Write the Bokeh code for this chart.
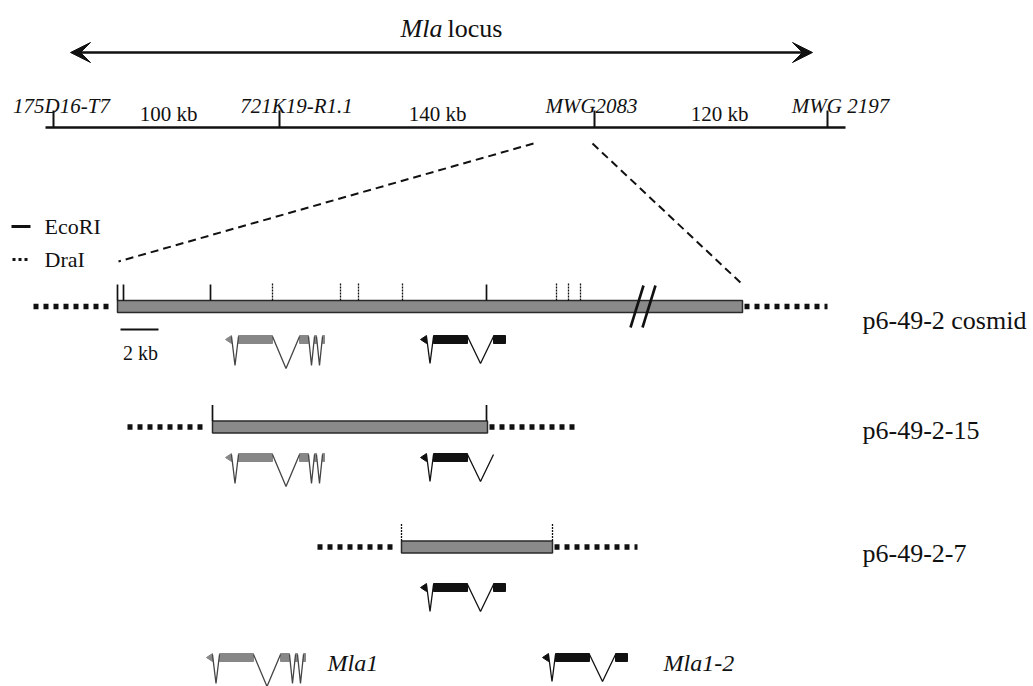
from bokeh.plotting import figure
from bokeh.models import Range1d, Arrow, VeeHead
from bokeh.core.properties import value
from bokeh.embed import file_html
from bokeh.resources import INLINE

FONT = "Liberation Serif"
INK = "#111111"
BAR_FILL = "#8a8a8a"

# ---------------- data ----------------
title_parts = ["Mla", "locus"]
locus_arrow = [70, 812]
map_line = [45, 845]
map_y = 127
marker_names = ["175D16-T7", "721K19-R1.1", "MWG2083", "MWG 2197"]
marker_x = [53, 279, 594, 827]
marker_label_x = [61, 296, 591, 840]
interval_labels = ["100 kb", "140 kb", "120 kb"]
interval_x = [168, 437, 719]

zoom_from_x = [533, 592]
zoom_to_x = [118, 742]
zoom_to_y = [261, 284]

clone_names = ["p6-49-2 cosmid", "p6-49-2-15", "p6-49-2-7"]
clone_start = [117, 212, 401]
clone_end = [742, 487, 552]
clone_mid_y = [306, 426.5, 546.5]
vector_left = [33, 127, 317]
vector_right = [827, 575, 637]
clone_label_y = [320, 430, 553]
clone_ecori = [[117, 123, 210, 486], [212, 486], []]
clone_drai = [[272, 340, 358, 402, 556, 568, 580], [], [401, 552]]
break_x = [636, 648]

scale_bar = [120, 158]
scale_label = "2 kb"

legend_labels = ["EcoRI", "DraI"]
legend_y = [226, 259]

# gene structures: first exon drawn as direction triangle
mla1_exons = [(225, 231), (238, 272), (299, 308), (314, 316), (322, 324)]
mla1_depth = [30, 33, 30, 30]
mla12_exons = [(420, 426), (433, 467), (493, 505)]
mla12_depth = [28, 28]
genes = {
    "Mla1": (mla1_exons, mla1_depth, "#878787", "#444444"),
    "Mla1-2": (mla12_exons, mla12_depth, "#111111", "#111111"),
}
# (gene, shift, exon top y, exons shown)
gene_rows = [
    ("Mla1", 0, 335, 5), ("Mla1-2", 0, 335, 3),
    ("Mla1", 0, 453, 5), ("Mla1-2", 0, 453, 2),
    ("Mla1-2", 0, 583, 3),
    ("Mla1", -19, 653, 5), ("Mla1-2", 122, 653, 3),
]
gene_label_x = [327, 663]
gene_label_y = 662

# ---------------- figure ----------------
W, H = 1033, 686
p = figure(width=W, height=H, x_range=Range1d(0, W), y_range=Range1d(H, 0),
           output_backend="svg", toolbar_location=None, min_border=0)
p.axis.visible = False
p.grid.visible = False
p.outline_line_color = None
p.background_fill_color = "white"


def txt(xs, ys, texts, size, italic=False, align="left", baseline="alphabetic"):
    p.text(x=xs, y=ys, text=texts, text_font=value(FONT), text_font_size=value(f"{size}px"),
           text_font_style="italic" if italic else "normal", text_align=align,
           text_baseline=baseline, text_color=INK)


# title + locus arrow
txt([442], [28], [title_parts[0]], 26, italic=True, align="right")
txt([447], [28], [title_parts[1]], 26)
p.add_layout(Arrow(start=VeeHead(size=20, fill_color=INK, line_color=INK),
                   end=VeeHead(size=20, fill_color=INK, line_color=INK),
                   x_start=locus_arrow[0], y_start=52, x_end=locus_arrow[1], y_end=52,
                   line_width=2.6, line_color=INK))

# physical map
p.line(map_line, [map_y, map_y], line_width=2.6, line_color=INK)
p.segment(x0=marker_x, y0=[map_y - 17] * 4, x1=marker_x, y1=[map_y] * 4, line_width=2, line_color=INK)
txt(marker_label_x, [105] * 4, marker_names, 21, italic=True, align="center")
txt(interval_x, [113] * 3, interval_labels, 21, align="center")

# zoom lines
p.segment(x0=zoom_from_x, y0=[143, 143], x1=zoom_to_x, y1=zoom_to_y, line_width=2,
          line_color=INK, line_dash="8 5")

# legend
p.line([11, 30], [legend_y[0]] * 2, line_width=3, line_color=INK)
p.line([12, 29], [legend_y[1]] * 2, line_width=3, line_color=INK, line_dash="3 3")
txt([44, 44], legend_y, legend_labels, 22, baseline="middle")

# clones
for i in range(3):
    yc = clone_mid_y[i]
    p.line([vector_left[i], clone_start[i] - 5], [yc, yc], line_width=5.5, line_color=INK, line_dash="5 5")
    p.line([clone_end[i] + 2, vector_right[i]], [yc, yc], line_width=5.5, line_color=INK, line_dash="5 5")
    p.quad(left=[clone_start[i]], right=[clone_end[i]], top=[yc - 6], bottom=[yc + 6],
           fill_color=BAR_FILL, line_color="#2a2a2a", line_width=1.5)
    e = clone_ecori[i]
    if e:
        p.segment(x0=e, y0=[yc - 22] * len(e), x1=e, y1=[yc - 6] * len(e), line_width=1.7, line_color=INK)
    d = clone_drai[i]
    if d:
        p.segment(x0=d, y0=[yc - 23] * len(d), x1=d, y1=[yc - 6] * len(d), line_width=1.3,
                  line_color=INK, line_dash="2 1")
    txt([862], [clone_label_y[i]], [clone_names[i]], 26)

# break marks on cosmid
p.segment(x0=[b - 6 for b in break_x], y0=[327, 327], x1=[b + 7 for b in break_x], y1=[285, 285],
          line_width=2.6, line_color=INK)

# scale bar
p.line(scale_bar, [329, 329], line_width=1.8, line_color=INK)
txt([sum(scale_bar) / 2 + 1], [352], [scale_label], 20, align="center")

# gene models
for name, shift, ytop, shown in gene_rows:
    exons, depth, col, icol = genes[name]
    ex = [(a + shift, b + shift) for a, b in exons]
    h = 8
    yc = ytop + h / 2
    # direction triangle
    a, b = ex[0]
    p.patch([a, b, b], [yc, yc - h / 2, yc + h / 2], fill_color=col, line_color=col, line_width=1)
    # exons
    for k in range(1, min(shown, len(ex))):
        a, b = ex[k]
        p.quad(left=[a], right=[b], top=[ytop], bottom=[ytop + h], fill_color=col,
               line_color=col, line_width=1)
    # introns
    for k in range(min(shown, len(ex) - 1)):
        x0 = ex[k][1]
        x1 = ex[k + 1][0]
        p.line([x0, (x0 + x1) / 2, x1], [ytop + 1, ytop + depth[k], ytop + 1],
               line_width=1.3, line_color=icol)

txt(gene_label_x, [gene_label_y] * 2, ["Mla1", "Mla1-2"], 24, italic=True)

open("out.html", "w").write(file_html(p, INLINE))
